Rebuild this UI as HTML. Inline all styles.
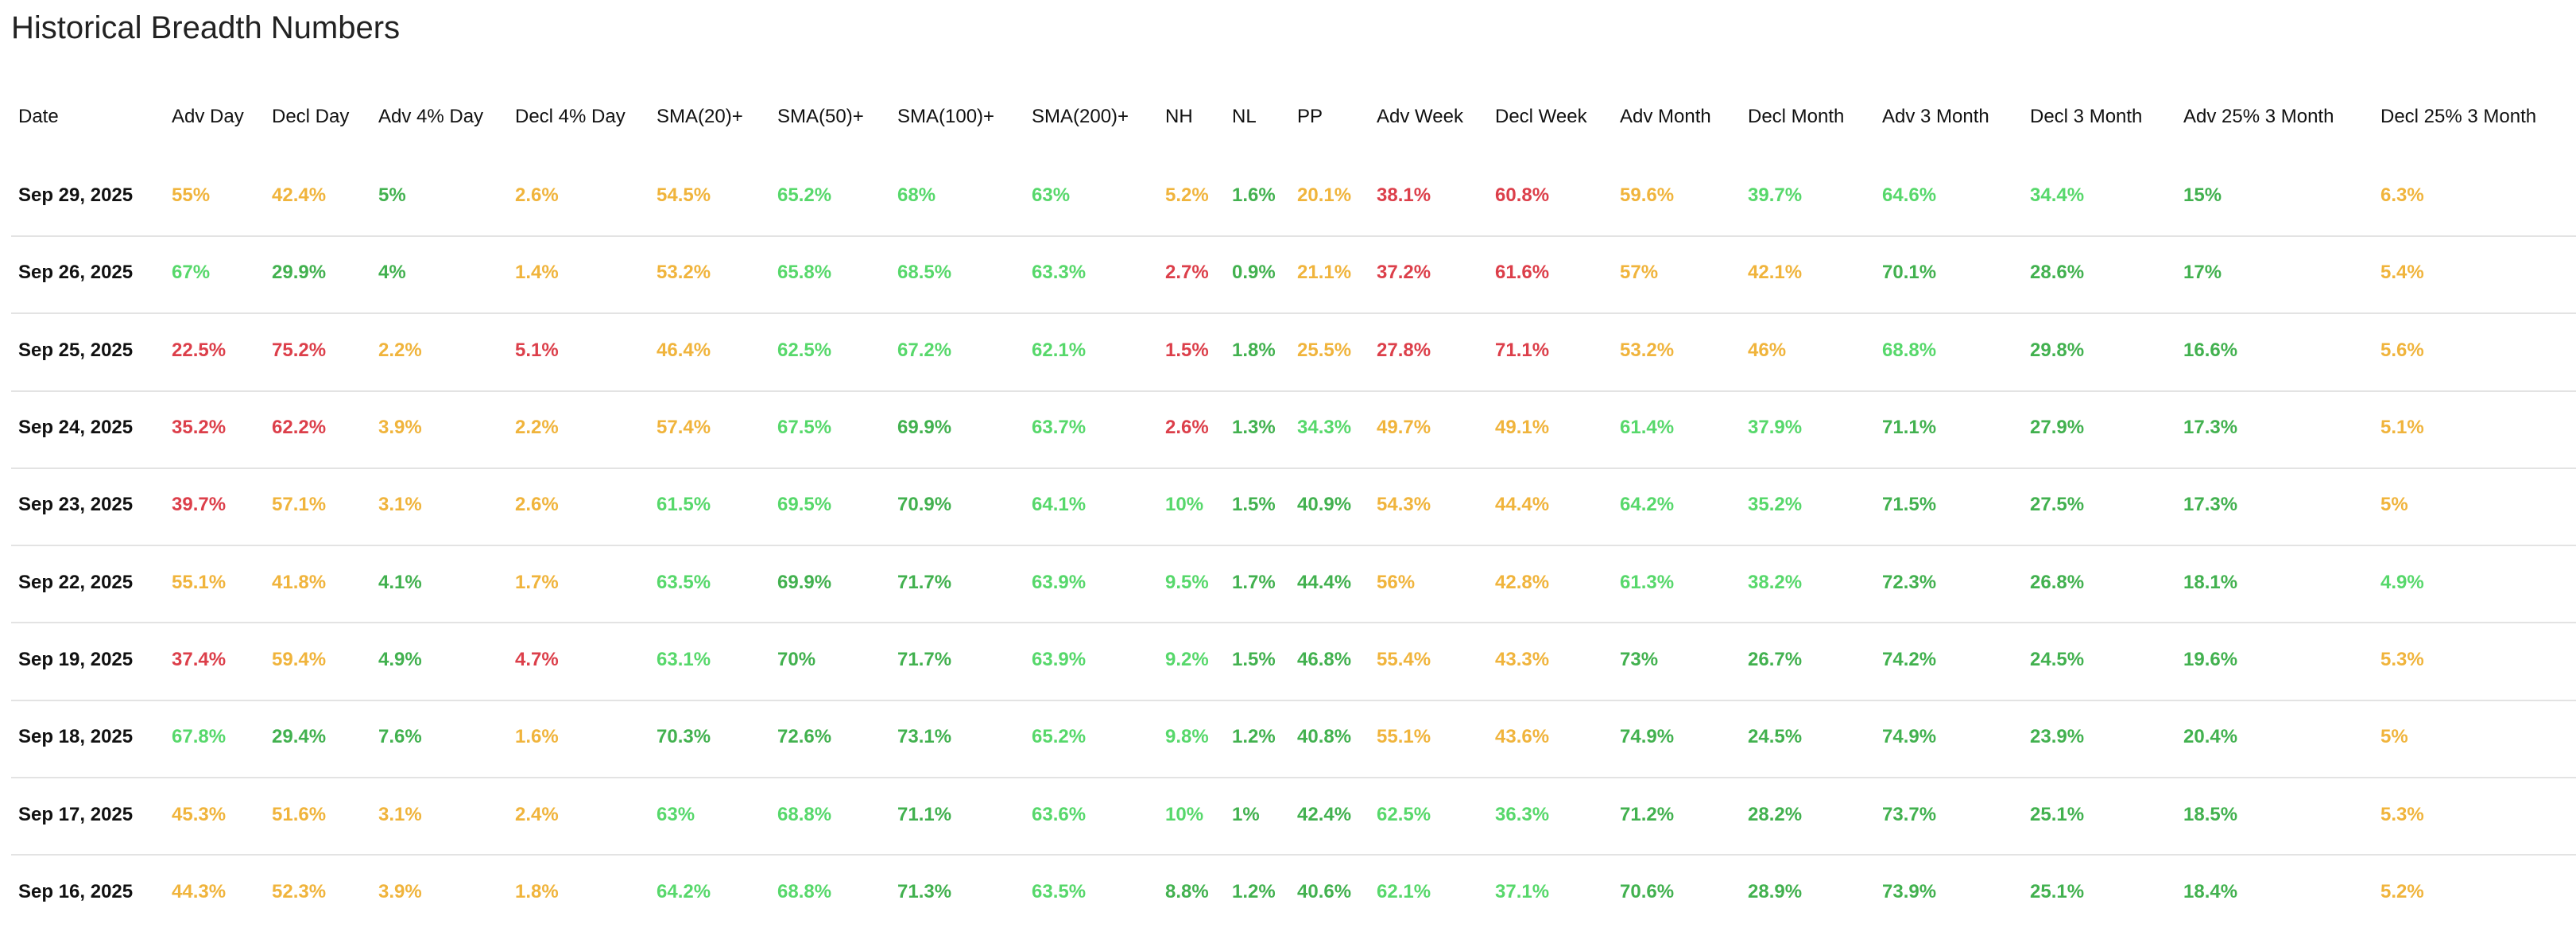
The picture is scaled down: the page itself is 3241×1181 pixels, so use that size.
<!DOCTYPE html>
<html><head><meta charset="utf-8"><style>
body{margin:0;width:3241px;height:1181px;background:#fff;position:relative;overflow:hidden;font-family:"Liberation Sans",Arial,sans-serif}
.t{position:absolute;left:14px;top:12px;font-size:40px;color:#222;line-height:46px}
.r{position:absolute;left:0;width:3241px;height:30px;line-height:30px;font-size:24px}
.r span{position:absolute;white-space:nowrap;font-weight:bold}
.h span{font-weight:normal;color:#111}
.r span:nth-child(1){left:23px;color:#111}
.r span:nth-child(2){left:216px}.r span:nth-child(3){left:342px}.r span:nth-child(4){left:476px}.r span:nth-child(5){left:648px}
.r span:nth-child(6){left:826px}.r span:nth-child(7){left:978px}.r span:nth-child(8){left:1129px}.r span:nth-child(9){left:1298px}
.r span:nth-child(10){left:1466px}.r span:nth-child(11){left:1550px}.r span:nth-child(12){left:1632px}
.r span:nth-child(13){left:1732px}.r span:nth-child(14){left:1881px}.r span:nth-child(15){left:2038px}.r span:nth-child(16){left:2199px}
.r span:nth-child(17){left:2368px}.r span:nth-child(18){left:2554px}.r span:nth-child(19){left:2747px}.r span:nth-child(20){left:2995px}
.O{color:#f0b43c}.L{color:#57d86b}.G{color:#42b14f}.R{color:#dc3f4a}
.ln{position:absolute;left:14px;width:3227px;height:2px;background:#e3e3e3}
</style></head><body>
<div class="t">Historical Breadth Numbers</div>
<div class="r h" style="top:132px"><span>Date</span><span>Adv Day</span><span>Decl Day</span><span>Adv 4% Day</span><span>Decl 4% Day</span><span>SMA(20)+</span><span>SMA(50)+</span><span>SMA(100)+</span><span>SMA(200)+</span><span>NH</span><span>NL</span><span>PP</span><span>Adv Week</span><span>Decl Week</span><span>Adv Month</span><span>Decl Month</span><span>Adv 3 Month</span><span>Decl 3 Month</span><span>Adv 25% 3 Month</span><span>Decl 25% 3 Month</span></div>

<div class="r" style="top:231px"><span>Sep 29, 2025</span><span class="O">55%</span><span class="O">42.4%</span><span class="G">5%</span><span class="O">2.6%</span><span class="O">54.5%</span><span class="L">65.2%</span><span class="L">68%</span><span class="L">63%</span><span class="O">5.2%</span><span class="G">1.6%</span><span class="O">20.1%</span><span class="R">38.1%</span><span class="R">60.8%</span><span class="O">59.6%</span><span class="L">39.7%</span><span class="L">64.6%</span><span class="L">34.4%</span><span class="G">15%</span><span class="O">6.3%</span></div>
<div class="ln" style="top:296px"></div>
<div class="r" style="top:328px"><span>Sep 26, 2025</span><span class="L">67%</span><span class="G">29.9%</span><span class="G">4%</span><span class="O">1.4%</span><span class="O">53.2%</span><span class="L">65.8%</span><span class="L">68.5%</span><span class="L">63.3%</span><span class="R">2.7%</span><span class="G">0.9%</span><span class="O">21.1%</span><span class="R">37.2%</span><span class="R">61.6%</span><span class="O">57%</span><span class="O">42.1%</span><span class="G">70.1%</span><span class="G">28.6%</span><span class="G">17%</span><span class="O">5.4%</span></div>
<div class="ln" style="top:393px"></div>
<div class="r" style="top:426px"><span>Sep 25, 2025</span><span class="R">22.5%</span><span class="R">75.2%</span><span class="O">2.2%</span><span class="R">5.1%</span><span class="O">46.4%</span><span class="L">62.5%</span><span class="L">67.2%</span><span class="L">62.1%</span><span class="R">1.5%</span><span class="G">1.8%</span><span class="O">25.5%</span><span class="R">27.8%</span><span class="R">71.1%</span><span class="O">53.2%</span><span class="O">46%</span><span class="L">68.8%</span><span class="G">29.8%</span><span class="G">16.6%</span><span class="O">5.6%</span></div>
<div class="ln" style="top:491px"></div>
<div class="r" style="top:523px"><span>Sep 24, 2025</span><span class="R">35.2%</span><span class="R">62.2%</span><span class="O">3.9%</span><span class="O">2.2%</span><span class="O">57.4%</span><span class="L">67.5%</span><span class="G">69.9%</span><span class="L">63.7%</span><span class="R">2.6%</span><span class="G">1.3%</span><span class="L">34.3%</span><span class="O">49.7%</span><span class="O">49.1%</span><span class="L">61.4%</span><span class="L">37.9%</span><span class="G">71.1%</span><span class="G">27.9%</span><span class="G">17.3%</span><span class="O">5.1%</span></div>
<div class="ln" style="top:588px"></div>
<div class="r" style="top:620px"><span>Sep 23, 2025</span><span class="R">39.7%</span><span class="O">57.1%</span><span class="O">3.1%</span><span class="O">2.6%</span><span class="L">61.5%</span><span class="L">69.5%</span><span class="G">70.9%</span><span class="L">64.1%</span><span class="L">10%</span><span class="G">1.5%</span><span class="G">40.9%</span><span class="O">54.3%</span><span class="O">44.4%</span><span class="L">64.2%</span><span class="L">35.2%</span><span class="G">71.5%</span><span class="G">27.5%</span><span class="G">17.3%</span><span class="O">5%</span></div>
<div class="ln" style="top:685px"></div>
<div class="r" style="top:718px"><span>Sep 22, 2025</span><span class="O">55.1%</span><span class="O">41.8%</span><span class="G">4.1%</span><span class="O">1.7%</span><span class="L">63.5%</span><span class="G">69.9%</span><span class="G">71.7%</span><span class="L">63.9%</span><span class="L">9.5%</span><span class="G">1.7%</span><span class="G">44.4%</span><span class="O">56%</span><span class="O">42.8%</span><span class="L">61.3%</span><span class="L">38.2%</span><span class="G">72.3%</span><span class="G">26.8%</span><span class="G">18.1%</span><span class="L">4.9%</span></div>
<div class="ln" style="top:782px"></div>
<div class="r" style="top:815px"><span>Sep 19, 2025</span><span class="R">37.4%</span><span class="O">59.4%</span><span class="G">4.9%</span><span class="R">4.7%</span><span class="L">63.1%</span><span class="G">70%</span><span class="G">71.7%</span><span class="L">63.9%</span><span class="L">9.2%</span><span class="G">1.5%</span><span class="G">46.8%</span><span class="O">55.4%</span><span class="O">43.3%</span><span class="G">73%</span><span class="G">26.7%</span><span class="G">74.2%</span><span class="G">24.5%</span><span class="G">19.6%</span><span class="O">5.3%</span></div>
<div class="ln" style="top:880px"></div>
<div class="r" style="top:912px"><span>Sep 18, 2025</span><span class="L">67.8%</span><span class="G">29.4%</span><span class="G">7.6%</span><span class="O">1.6%</span><span class="G">70.3%</span><span class="G">72.6%</span><span class="G">73.1%</span><span class="L">65.2%</span><span class="L">9.8%</span><span class="G">1.2%</span><span class="G">40.8%</span><span class="O">55.1%</span><span class="O">43.6%</span><span class="G">74.9%</span><span class="G">24.5%</span><span class="G">74.9%</span><span class="G">23.9%</span><span class="G">20.4%</span><span class="O">5%</span></div>
<div class="ln" style="top:977px"></div>
<div class="r" style="top:1010px"><span>Sep 17, 2025</span><span class="O">45.3%</span><span class="O">51.6%</span><span class="O">3.1%</span><span class="O">2.4%</span><span class="L">63%</span><span class="L">68.8%</span><span class="G">71.1%</span><span class="L">63.6%</span><span class="L">10%</span><span class="G">1%</span><span class="G">42.4%</span><span class="L">62.5%</span><span class="L">36.3%</span><span class="G">71.2%</span><span class="G">28.2%</span><span class="G">73.7%</span><span class="G">25.1%</span><span class="G">18.5%</span><span class="O">5.3%</span></div>
<div class="ln" style="top:1074px"></div>
<div class="r" style="top:1107px"><span>Sep 16, 2025</span><span class="O">44.3%</span><span class="O">52.3%</span><span class="O">3.9%</span><span class="O">1.8%</span><span class="L">64.2%</span><span class="L">68.8%</span><span class="G">71.3%</span><span class="L">63.5%</span><span class="G">8.8%</span><span class="G">1.2%</span><span class="G">40.6%</span><span class="L">62.1%</span><span class="L">37.1%</span><span class="G">70.6%</span><span class="G">28.9%</span><span class="G">73.9%</span><span class="G">25.1%</span><span class="G">18.4%</span><span class="O">5.2%</span></div>
</body></html>
